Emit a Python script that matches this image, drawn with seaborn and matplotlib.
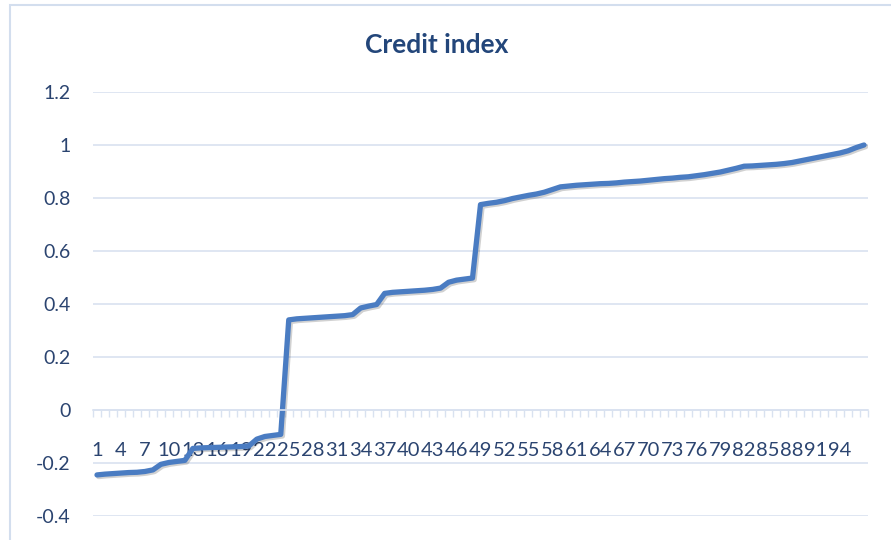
import numpy as np
import pandas as pd
import seaborn as sns
import matplotlib.pyplot as plt
import matplotlib.patheffects as pe
from matplotlib.patches import Rectangle

credit_index = [
    -0.245, -0.242, -0.240, -0.238, -0.236, -0.235, -0.232, -0.226, -0.205, -0.198,
    -0.194, -0.190, -0.145, -0.143, -0.142, -0.141, -0.140, -0.139, -0.138, -0.136,
    -0.110, -0.100, -0.096, -0.092, 0.340, 0.344, 0.346, 0.348, 0.350, 0.352,
    0.354, 0.356, 0.360, 0.385, 0.392, 0.398, 0.440, 0.444, 0.446, 0.448,
    0.450, 0.452, 0.455, 0.460, 0.482, 0.490, 0.494, 0.498, 0.775, 0.780,
    0.784, 0.790, 0.798, 0.804, 0.810, 0.815, 0.822, 0.832, 0.842, 0.845,
    0.848, 0.850, 0.852, 0.854, 0.855, 0.857, 0.860, 0.862, 0.864, 0.867,
    0.870, 0.873, 0.875, 0.878, 0.880, 0.884, 0.888, 0.893, 0.898, 0.905,
    0.912, 0.920, 0.921, 0.923, 0.925, 0.927, 0.930, 0.934, 0.940, 0.946,
    0.952, 0.958, 0.964, 0.970, 0.978, 0.990, 1.000,
]
obs = list(range(1, len(credit_index) + 1))
x_labels = list(range(1, 95, 3))  # 1, 4, ..., 94
y_ticks = [-0.4, -0.2, 0, 0.2, 0.4, 0.6, 0.8, 1, 1.2]
y_tick_labels = ["-0.4", "-0.2", "0", "0.2", "0.4", "0.6", "0.8", "1", "1.2"]

df = pd.DataFrame({"obs": obs, "credit": credit_index})

sns.set_style("white")
plt.rcParams["font.family"] = ["Lato", "DejaVu Sans"]

text_col = "#2B4470"
grid_col = "#D9E2F0"
line_col = "#4A7CC2"

fig = plt.figure(figsize=(8.91, 5.4), dpi=100)
ax = fig.add_axes([93 / 891, 1 - 516 / 540, 775 / 891, 424 / 540])

# chart-area border like the spreadsheet frame
fig.patches.append(Rectangle((10 / 891, -0.1), 2, 1.1 - 5 / 540,
                             transform=fig.transFigure, fill=False,
                             edgecolor="#D3DEEE", linewidth=1.5))

sns.lineplot(data=df, x="obs", y="credit", ax=ax, color=line_col,
             linewidth=3.8, solid_joinstyle="round",
             path_effects=[pe.SimpleLineShadow(offset=(1.2, -1.2), alpha=0.18),
                           pe.Normal()])

ax.set_xlim(0.5, len(obs) + 0.5)
ax.set_ylim(-0.4, 1.2)
ax.set_yticks(y_ticks)
ax.set_yticklabels(y_tick_labels)
ax.yaxis.grid(True, color=grid_col, linewidth=1.2)
ax.set_axisbelow(True)

for s in ["top", "right", "left"]:
    ax.spines[s].set_visible(False)
ax.spines["bottom"].set_position(("data", 0))
ax.spines["bottom"].set_color(grid_col)
ax.spines["bottom"].set_linewidth(1.2)

ax.set_xticks(x_labels)
ax.set_xticklabels([str(v) for v in x_labels])
ax.set_xticks(np.arange(0.5, len(obs) + 1, 1), minor=True)
ax.tick_params(axis="x", which="both", bottom=True)
ax.tick_params(axis="x", which="major", length=0, pad=23, labelsize=14.5,
               labelcolor=text_col)
ax.tick_params(axis="x", which="minor", length=5, width=1, color=grid_col,
               direction="out")
ax.tick_params(axis="y", length=0, pad=16, labelsize=14, labelcolor=text_col)

ax.set_xlabel("")
ax.set_ylabel("")
fig.text(437 / 891, 1 - 45 / 540, "Credit index", ha="center", va="center",
         fontsize=19, fontweight="bold", color="#23467A")

fig.savefig("out.png", dpi=100)
